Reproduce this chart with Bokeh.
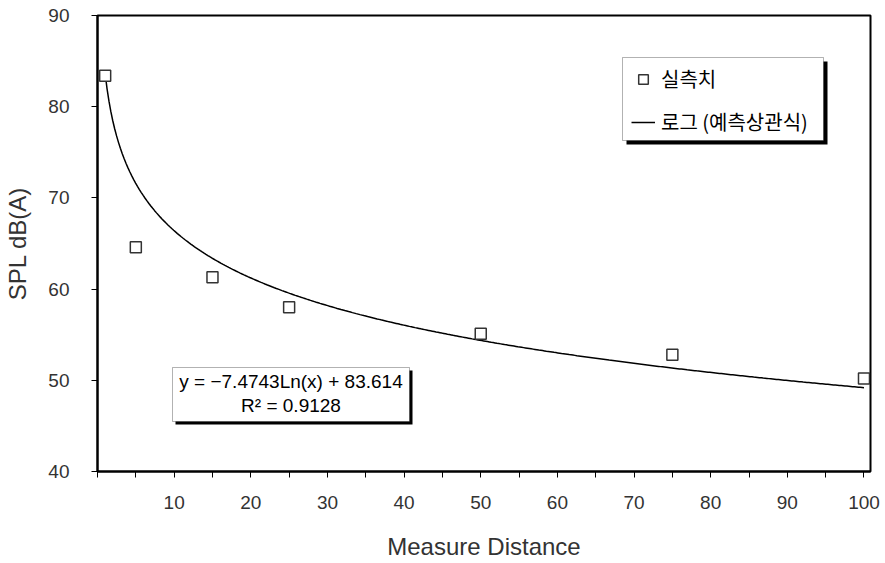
import numpy as np
from bokeh.plotting import figure
from bokeh.models import (Range1d, FixedTicker, Legend, LegendItem, BoxAnnotation,
                          Label)
from bokeh.embed import file_html
from bokeh.resources import INLINE

# ---- data ----
distance = [1, 5, 15, 25, 50, 75, 100]
spl_measured = [83.4, 64.6, 61.3, 58.0, 55.1, 52.8, 50.2]
FIT_SLOPE = -7.4743      # from the trendline equation shown on the chart
FIT_INTERCEPT = 83.614
R_SQUARED = 0.9128
x_major_ticks = [10, 20, 30, 40, 50, 60, 70, 80, 90, 100]
x_minor_ticks = [0, 5, 15, 25, 35, 45, 55, 65, 75, 85, 95]
y_ticks = [40, 50, 60, 70, 80, 90]
legend_labels = ["실측치", "로그 (예측상관식)"]
eq_text = "y = −7.4743Ln(x) + 83.614"
r2_text = "R² = 0.9128"

trend_x = np.linspace(min(distance), max(distance), 400)
trend_y = FIT_SLOPE * np.log(trend_x) + FIT_INTERCEPT

# ---- layout ----
W, H = 885, 563
L, R, T, B = 97, 15, 15, 92
X0, X1 = 0, 100.85
Y0, Y1 = 40, 90
FW, FH = W - L - R, H - T - B

def px_x(px):
    return X0 + (px - L) * (X1 - X0) / FW

def px_y(py):
    return Y0 + (T + FH - py) * (Y1 - Y0) / FH

FONT = "Liberation Sans"
TXT = "#333333"

p = figure(width=W, height=H, x_range=Range1d(X0, X1), y_range=Range1d(Y0, Y1),
           output_backend="svg", toolbar_location=None,
           min_border_left=L, min_border_right=R, min_border_top=T, min_border_bottom=B)
p.background_fill_color = "white"
p.border_fill_color = "white"
p.outline_line_color = "black"
p.outline_line_width = 2
p.xgrid.visible = False
p.ygrid.visible = False

xa = p.xaxis[0]
xa.ticker = FixedTicker(ticks=x_major_ticks, minor_ticks=x_minor_ticks)
xa.axis_label = "Measure Distance"
ya = p.yaxis[0]
ya.ticker = FixedTicker(ticks=y_ticks, minor_ticks=[])
ya.axis_label = "SPL dB(A)"
for ax in (xa, ya):
    ax.axis_line_color = "black"
    ax.axis_line_width = 2
    ax.major_tick_line_color = "black"
    ax.major_tick_line_width = 1
    ax.major_tick_in = 0
    ax.major_tick_out = 6
    ax.minor_tick_line_color = "black"
    ax.minor_tick_line_width = 1
    ax.minor_tick_in = 0
    ax.minor_tick_out = 6
    ax.major_label_text_font = FONT
    ax.major_label_text_font_size = "19px"
    ax.major_label_text_color = TXT
    ax.axis_label_text_font = FONT
    ax.axis_label_text_font_size = "24px"
    ax.axis_label_text_font_style = "normal"
    ax.axis_label_text_color = TXT
xa.major_label_standoff = 18
xa.axis_label_standoff = 21
ya.major_label_standoff = 22
ya.axis_label_standoff = 14

# ---- glyphs ----
r_line = p.line(trend_x, trend_y, line_color="black", line_width=1.5)
r_pts = p.scatter(distance, spl_measured, marker="square", size=11,
                  fill_color="white", line_color="#333333", line_width=1.5)

# ---- boxes with drop shadows ----
def add_box(l, r, t, b, shadow):
    p.add_layout(BoxAnnotation(left=px_x(l + shadow), right=px_x(r + shadow),
                               top=px_y(t + shadow), bottom=px_y(b + shadow),
                               fill_color="black", fill_alpha=1, line_alpha=0))
    p.add_layout(BoxAnnotation(left=px_x(l), right=px_x(r), top=px_y(t), bottom=px_y(b),
                               fill_color="white", fill_alpha=1,
                               line_color="black", line_width=1))

# equation box
add_box(172, 409, 367, 421, 3)
for txt, cy in ((eq_text, 381), (r2_text, 405)):
    p.add_layout(Label(x=px_x(290.5), y=px_y(cy), text=txt, text_font=FONT,
                       text_font_size="19px", text_color="black",
                       text_align="center", text_baseline="middle"))

# legend
add_box(622, 823, 57, 140, 4)
legend = Legend(items=[LegendItem(label=legend_labels[0], renderers=[r_pts]),
                       LegendItem(label=legend_labels[1], renderers=[r_line])],
                location=(631 - L, T + FH - 136), margin=0, padding=0,
                spacing=14, glyph_width=24, glyph_height=24, label_height=24,
                label_standoff=6, label_text_font="Noto Sans CJK KR",
                label_text_font_size="20px", label_text_color="black",
                border_line_alpha=0, background_fill_alpha=0)
p.add_layout(legend, "center")

open("out.html", "w").write(file_html(p, INLINE))
